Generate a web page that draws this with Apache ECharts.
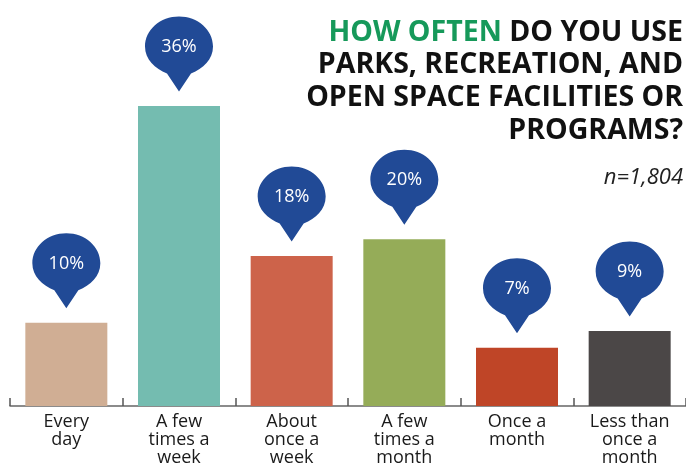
<!DOCTYPE html>
<html>
<head>
<meta charset="utf-8">
<script src="https://cdn.jsdelivr.net/npm/echarts@6/dist/echarts.min.js"></script>
<style>html,body{margin:0;padding:0;background:#fff;}#c{width:686px;height:467px;}</style>
</head>
<body>
<div id="c"></div>
<script>
const categories = ['Every\nday', 'A few\ntimes a\nweek', 'About\nonce a\nweek', 'A few\ntimes a\nmonth', 'Once a\nmonth', 'Less than\nonce a\nmonth'];
const percents = [10, 36, 18, 20, 7, 9];
const barColors = ['#d0ae94', '#74bcb0', '#cd634a', '#95ac58', '#bf4527', '#4b4747'];
const titleLines = ['{g|HOW OFTEN} DO YOU USE', 'PARKS, RECREATION, AND', 'OPEN SPACE FACILITIES OR', 'PROGRAMS?'];
const sampleText = 'n=1,804';

const bubblePath = 'path://M34 0 C52.8 0 68 13.4 68 30 C68 43 58 52 46 57 L34 75 L22 57 C10 52 0 43 0 30 C0 13.4 15.2 0 34 0 Z';

const titleGraphics = titleLines.map((line, i) => ({
  type: 'text',
  right: 3,
  top: 16 + i * 32.7,
  z: 10,
  style: {
    text: line,
    align: 'right',
    fontFamily: 'Open Sans', fontWeight: 'bold', fontSize: 28.5, fill: '#111111', lineHeight: 33,
    rich: { g: { fill: '#16995a', fontFamily: 'Open Sans', fontWeight: 'bold', fontSize: 28.5, lineHeight: 33 } }
  }
}));

const chart = echarts.init(document.getElementById('c'), null, {renderer: 'canvas'});
chart.setOption({
  animation: false,
  backgroundColor: '#ffffff',
  graphic: titleGraphics.concat([{
    type: 'text',
    right: 3,
    top: 167,
    style: { text: sampleText, align: 'right', fontFamily: 'Open Sans', fontStyle: 'italic', fontSize: 22, fill: '#222222' }
  }]),
  grid: { left: 10, top: 6, width: 680, height: 400, containLabel: false },
  xAxis: {
    type: 'category',
    data: categories,
    axisLine: { lineStyle: { color: '#666666', width: 1.5 } },
    axisTick: { show: true, inside: true, length: 8, alignWithLabel: false, lineStyle: { color: '#555555', width: 1.5 } },
    axisLabel: { interval: 0, margin: 7, color: '#1a1a1a', fontFamily: 'Open Sans', fontSize: 18, lineHeight: 18 }
  },
  yAxis: { type: 'value', min: 0, max: 48, show: false, splitLine: { show: false } },
  series: [{
    type: 'bar',
    data: percents.map((v, i) => ({ value: v, itemStyle: { color: barColors[i] } })),
    barWidth: 82
  }, {
    type: 'scatter',
    data: percents,
    symbol: bubblePath,
    symbolSize: [68, 75],
    symbolOffset: [0, -52],
    itemStyle: { color: '#214a96', opacity: 1 },
    label: {
      show: true, position: 'inside', offset: [0, -7],
      formatter: '{c}%', color: '#ffffff', fontFamily: 'Open Sans', fontSize: 18
    },
    z: 5
  }]
});
</script>
</body>
</html>
